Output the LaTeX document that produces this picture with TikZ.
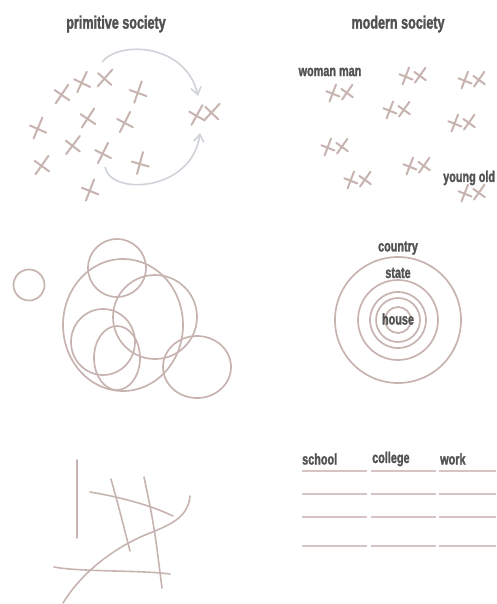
\documentclass[tikz,border=0pt]{standalone}
\usepackage{fontspec}
\newfontfamily\labelfont[FakeStretch=0.7,FakeBold=1.6]{Liberation Sans Bold}
\usetikzlibrary{arrows.meta}
\definecolor{sketch}{RGB}{199,180,176}
\definecolor{rule}{RGB}{214,196,196}
\definecolor{flow}{RGB}{206,211,217}
\definecolor{ink}{RGB}{82,82,82}
\tikzset{
  stroke/.style={sketch,line width=2pt,line cap=round},
  ring/.style={sketch,line width=1.7pt},
  rulebar/.style={rule,line width=1.7pt},
  flowarrow/.style={-{Straight Barb[length=2.6mm,width=3.6mm]},flow,line width=1.6pt},
  title/.style={font=\labelfont\fontsize{18}{20}\selectfont,text=ink},
  tag/.style={font=\labelfont\fontsize{15.5}{17}\selectfont,text=ink,inner sep=1pt},
}
% one hand-drawn cross: [rotation]{x}{y}
\newcommand\xmark[3][0]{%
  \begin{scope}[shift={(#2,#3)},rotate=#1,scale=1.1]
    \draw[stroke] (-5,9) -- (5,-9);
    \draw[stroke] (-7,-3) -- (7,5);
  \end{scope}}
% a couple of small crosses: {x}{y}
\newcommand\xpair[2]{%
  \begin{scope}[shift={(#1,#2)},scale=0.8]
    \xmark[8]{-9}{0}
    \xmark[-6]{9}{-1}
  \end{scope}}

\begin{document}
\begin{tikzpicture}[x=1pt,y=-1pt]
  \useasboundingbox (0,0) rectangle (496,604);

  % titles
  \node[title] (prim) at (116,24) {primitive society};
  \node[title] (mod) at (398,24) {modern society};

  % primitive society: scattered crosses
  \xmark[-5]{62}{94}   \xmark[4]{82}{82}    \xmark[-12]{105}{78}
  \xmark[10]{138}{92}  \xmark[6]{38}{128}   \xmark[-4]{88}{118}
  \xmark[2]{125}{122}  \xmark[-8]{73}{145}  \xmark[3]{103}{153}
  \xmark[14]{140}{163} \xmark[-6]{42}{165}  \xmark[8]{90}{190}
  \xmark[0]{197}{115}  \xmark[-14]{212}{112}
  \coordinate (crowdtop) at (102,62);
  \coordinate (crowdlow) at (105,167);
  \coordinate (pairtop) at (198,96);
  \coordinate (pairlow) at (200,133);
  \draw[flowarrow] (crowdtop) .. controls (120,40) and (186,44) .. (pairtop);
  \draw[flowarrow] (crowdlow) .. controls (110,196) and (192,192) .. (pairlow);

  % modern society: couples
  \node[tag] (wm) at (330,72) {woman man};
  \xpair{340}{93}  \xpair{413}{76}  \xpair{472}{80}
  \xpair{397}{110} \xpair{462}{123} \xpair{335}{147}
  \xpair{358}{180} \xpair{417}{166} \xpair{472}{193}
  \node[tag,anchor=west] (yo) at (442,178) {young old};

  % primitive society: overlapping circles
  \draw[ring] (29,285) circle (15.5);
  \draw[ring] (117,268) circle (29);
  \draw[ring] (123,325) ellipse (60 and 66);
  \draw[ring] (155,317) circle (42);
  \draw[ring] (103,342) ellipse (32 and 33);
  \draw[ring] (117,358) ellipse (23 and 32);
  \draw[ring] (197,367) ellipse (34 and 31);

  % modern society: nested circles
  \foreach \r in {63,40,28,22,13}
    \draw[ring] (398,320) circle (\r);
  \node[tag] (country) at (398,248) {country};
  \node[tag] (state) at (398,273) {state};
  \node[tag] (house) at (398,319) {house};

  % primitive society: crossing paths
  \draw[stroke,line width=1.6pt] (77,460) -- (77,538);
  \draw[stroke,line width=1.6pt] (111,479) .. controls (119,508) .. (130,551);
  \draw[stroke,line width=1.6pt] (144,477) .. controls (154,525) .. (162,588);
  \draw[stroke,line width=1.6pt] (90,492) .. controls (120,497) and (150,505) .. (173,516);
  \draw[stroke,line width=1.6pt] (54,567) .. controls (80,572) and (140,570) .. (170,574);
  \draw[stroke,line width=1.6pt] (190,496) .. controls (188,518) and (170,525) .. (145,535)
    .. controls (110,550) and (80,575) .. (63,603);

  % modern society: fixed lanes
  \node[tag,anchor=west,inner sep=0pt] (school) at (302,459) {school};
  \node[tag,anchor=west,inner sep=0pt] (college) at (372,459) {college};
  \node[tag,anchor=west,inner sep=0pt] (work) at (440,459) {work};
  \foreach \y in {471,494,517,546} {
    \draw[rulebar] (302,\y) -- (367,\y);
    \draw[rulebar] (371,\y) -- (436,\y);
    \draw[rulebar] (439,\y) -- (496,\y);
  }
\end{tikzpicture}
\end{document}
